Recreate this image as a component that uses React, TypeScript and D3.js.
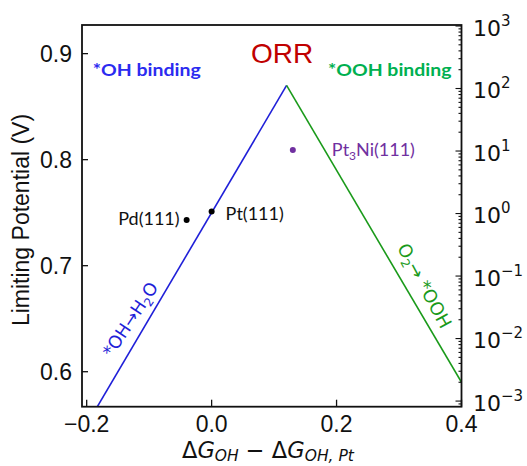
import React from "react";
import * as d3 from "d3";

const ohBranchDG = [-0.25, 0.12];
const ohBranchU = [0.5, 0.87];
const oohBranchDG = [0.12, 0.45];
const oohBranchU = [0.87, 0.54];

const catalystNames = ["Pd(111)", "Pt(111)", "Pt3Ni(111)"];
const catalystDG = [-0.04, 0.0, 0.13];
const catalystU = [0.743, 0.751, 0.809];

const xTickValues = [-0.2, 0.0, 0.2, 0.4];
const xTickLabels = ["\u22120.2", "0.0", "0.2", "0.4"];
const yTickValues = [0.6, 0.7, 0.8, 0.9];
const yTickLabels = ["0.6", "0.7", "0.8", "0.9"];
const rateExponents = [-3, -2, -1, 0, 1, 2, 3];

const W = 527;
const H = 466;
const L = 82;
const R = 461.5;
const T = 25;
const B = 406.7;

export default function App() {
  const x = d3.scaleLinear().domain([-0.2075, 0.4]).range([L, R]);
  const y = d3.scaleLinear().domain([0.567, 0.927]).range([B, T]);
  const yr = d3.scaleLog().domain([Math.pow(10, -3.09), Math.pow(10, 3.016)]).range([B, T]);

  const line = d3
    .line<[number, number]>()
    .x((d) => x(d[0]))
    .y((d) => y(d[1]));
  const ohPts = ohBranchDG.map((v, i) => [v, ohBranchU[i]] as [number, number]);
  const oohPts = oohBranchDG.map((v, i) => [v, oohBranchU[i]] as [number, number]);

  const logTicks = yr.ticks();
  const isMajor = (v: number) => Math.abs(Math.log10(v) - Math.round(Math.log10(v))) < 1e-6;

  // rotated label geometry (derived from scales)
  const blueAngle = (Math.atan2(y(0.87) - y(0.5), x(0.12) - x(-0.25)) * 180) / Math.PI;
  const greenAngle = (Math.atan2(y(0.54) - y(0.87), x(0.45) - x(0.12)) * 180) / Math.PI;
  const blueU0 = 0.607;
  const bx0 = x(blueU0 - 0.75);
  const by0 = y(blueU0);
  const ba = (blueAngle * Math.PI) / 180;
  const bOff = 12;
  const bx = bx0 + Math.sin(ba) * bOff;
  const by = by0 - Math.cos(ba) * bOff;
  const greenU0 = 0.711;
  const gx0 = x(0.99 - greenU0);
  const gy0 = y(greenU0);
  const ga = (greenAngle * Math.PI) / 180;
  const gOff = 12.5;
  const gx = gx0 + Math.sin(ga) * gOff;
  const gy = gy0 - Math.cos(ga) * gOff;

  const annFont = "Lato, 'Open Sans', sans-serif";
  const tickFont = "'Liberation Sans', Arial, sans-serif";
  const djv = "'DejaVu Sans', sans-serif";

  return (
    <svg
      width={W}
      height={H}
      style={{ position: "absolute", left: 0, top: 0, background: "#fff" }}
    >
      <defs>
        <clipPath id="plotclip">
          <rect x={L} y={T} width={R - L} height={B - T} />
        </clipPath>
      </defs>
      <rect x={0} y={0} width={W} height={H} fill="#fff" />

      {/* volcano lines */}
      <g clipPath="url(#plotclip)">
        <path d={line(ohPts) || ""} fill="none" stroke="#1f1fd8" strokeWidth={1.6} />
        <path d={line(oohPts) || ""} fill="none" stroke="#1a9a1a" strokeWidth={1.6} />
      </g>

      {/* frame */}
      <rect x={L} y={T} width={R - L} height={B - T} fill="none" stroke="#111" strokeWidth={1.8} />

      {/* left ticks */}
      {yTickValues.map((v, i) => (
        <g key={"yt" + i}>
          <line x1={L} x2={L + 6} y1={y(v)} y2={y(v)} stroke="#111" strokeWidth={1.3} />
          <text
            x={L - 10}
            y={y(v)}
            dy="0.36em"
            textAnchor="end"
            fontFamily={tickFont}
            fontSize={23}
            fill="#111"
          >
            {yTickLabels[i]}
          </text>
        </g>
      ))}

      {/* bottom ticks */}
      {xTickValues.map((v, i) => (
        <g key={"xt" + i}>
          <line x1={x(v)} x2={x(v)} y1={B} y2={B - 7} stroke="#111" strokeWidth={1.3} />
          <text
            x={x(v)}
            y={432}
            textAnchor="middle"
            fontFamily={tickFont}
            fontSize={23}
            fill="#111"
          >
            {xTickLabels[i]}
          </text>
        </g>
      ))}

      {/* right log ticks */}
      {logTicks.map((v, i) => {
        const major = isMajor(v);
        return (
          <line
            key={"rt" + i}
            x1={R}
            x2={R - (major ? 6 : 3)}
            y1={yr(v)}
            y2={yr(v)}
            stroke="#111"
            strokeWidth={1.1}
          />
        );
      })}
      {rateExponents.map((e) => (
        <text
          key={"rl" + e}
          x={473}
          y={yr(Math.pow(10, e)) + 9.5}
          fontFamily={djv}
          fontSize={22}
          fill="#111"
        >
          10
          <tspan dy={-10} fontSize={15}>
            {e < 0 ? "\u2212" + Math.abs(e) : String(e)}
          </tspan>
        </text>
      ))}

      {/* axis titles */}
      <text
        transform={`translate(29,220) rotate(-90)`}
        textAnchor="middle"
        fontFamily={tickFont}
        fontSize={23}
        fill="#111"
      >
        Limiting Potential (V)
      </text>
      <text x={182} y={458} fontFamily={djv} fontSize={22.5} fill="#111">
        Δ<tspan fontStyle="italic">G</tspan>
        <tspan fontStyle="italic" fontSize={15.5} dy={3}>
          OH
        </tspan>
        <tspan dy={-3}> − Δ</tspan>
        <tspan fontStyle="italic">G</tspan>
        <tspan fontStyle="italic" fontSize={15.5} dy={3}>
          OH, Pt
        </tspan>
      </text>

      {/* annotations */}
      <text x={282} y={62.5} textAnchor="middle" fontFamily={tickFont} fontSize={28} fill="#c00000">
        ORR
      </text>
      <text
        x={92.7}
        y={76}
        fontFamily={annFont}
        fontWeight="bold"
        fontSize={17}
        fill="#2b2bf0"
        textLength={108}
        lengthAdjust="spacingAndGlyphs"
      >
        *OH binding
      </text>
      <text
        x={328}
        y={76}
        fontFamily={annFont}
        fontWeight="bold"
        fontSize={17}
        fill="#00b050"
        textLength={123.5}
        lengthAdjust="spacingAndGlyphs"
      >
        *OOH binding
      </text>

      {/* catalyst points */}
      {catalystNames.map((n, i) => {
        const cx = x(catalystDG[i]);
        const cy = y(catalystU[i]);
        const purple = i === 2;
        return (
          <g key={n}>
            <circle cx={cx} cy={cy} r={3} fill={purple ? "#7030a0" : "#000"} />
            {i === 0 && (
              <text
                x={cx - 7}
                y={cy + 5}
                textAnchor="end"
                fontFamily={annFont}
                fontSize={18}
                fill="#111"
              >
                {n}
              </text>
            )}
            {i === 1 && (
              <text x={cx + 14} y={cy + 8} fontFamily={annFont} fontSize={18} fill="#111">
                {n}
              </text>
            )}
            {i === 2 && (
              <text x={cx + 39} y={cy + 6} fontFamily={annFont} fontSize={18} fill="#7030a0">
                Pt
                <tspan fontSize={12} dy={4}>
                  3
                </tspan>
                <tspan dy={-4}>Ni(111)</tspan>
              </text>
            )}
          </g>
        );
      })}

      {/* branch labels */}
      <text
        transform={`translate(${bx},${by}) rotate(${blueAngle + 3})`}
        fontFamily={djv}
        fontSize={17.5}
        fill="#1f1fd8"
      >
        *OH→H
        <tspan fontSize={12} dy={4}>
          2
        </tspan>
        <tspan dy={-4}>O</tspan>
      </text>
      <text
        transform={`translate(${gx},${gy}) rotate(${greenAngle + 2})`}
        fontFamily={djv}
        fontSize={18}
        fill="#1a9a1a"
      >
        O
        <tspan fontSize={12} dy={4}>
          2
        </tspan>
        <tspan dy={-4}>→ *OOH</tspan>
      </text>
    </svg>
  );
}
